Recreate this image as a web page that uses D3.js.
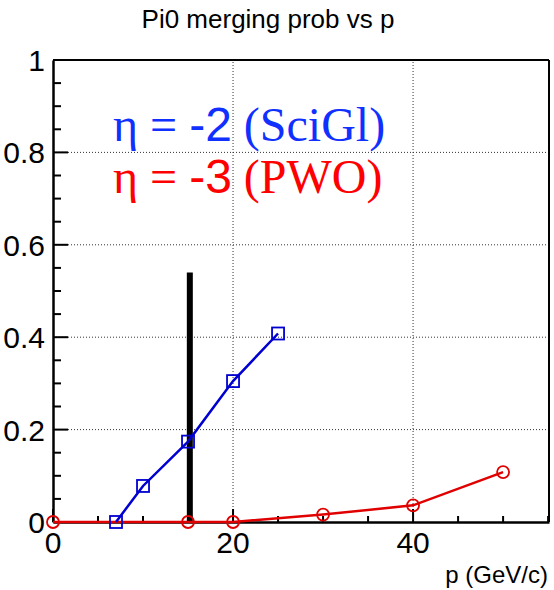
<!DOCTYPE html>
<html><head><meta charset="utf-8">
<script src="https://cdn.jsdelivr.net/npm/d3@7"></script>
<style>body{margin:0;background:#fff}svg{display:block}</style>
</head><body>
<script>
const blueX = [7, 10, 15, 20, 25];
const blueY = [0, 0.078, 0.174, 0.305, 0.408];
const redX = [0, 15, 20, 30, 40, 50];
const redY = [0, 0, 0, 0.016, 0.036, 0.108];
const cutX = 15.2, cutY = 0.54;
const xTicks = [0, 20, 40];
const yTicks = [0, 0.2, 0.4, 0.6, 0.8, 1];
const yTickLabels = ["0", "0.2", "0.4", "0.6", "0.8", "1"];

const W = 554, H = 590;
const L = 53, R = 549, T = 60, B = 522;
const svg = d3.select("body").append("svg").attr("width", W).attr("height", H);
const x = d3.scaleLinear().domain([0, 55.1]).range([L, R]);
const y = d3.scaleLinear().domain([0, 1]).range([B, T]);
const sans = "Liberation Sans, Arial, Helvetica, sans-serif";
const serif = "Liberation Serif, Times New Roman, serif";

// grid
const g = svg.append("g");
[20, 40].forEach(v => g.append("line").attr("x1", x(v)).attr("x2", x(v)).attr("y1", B).attr("y2", T)
  .attr("stroke", "#333").attr("stroke-width", 1).attr("stroke-dasharray", "1,2"));
[0.2, 0.4, 0.6, 0.8].forEach(v => g.append("line").attr("y1", y(v)).attr("y2", y(v)).attr("x1", L).attr("x2", R)
  .attr("stroke", "#333").attr("stroke-width", 1).attr("stroke-dasharray", "1,2"));

// frame
svg.append("line").attr("x1", L).attr("x2", R).attr("y1", T).attr("y2", T).attr("stroke", "#000").attr("stroke-width", 2);
svg.append("line").attr("x1", R).attr("x2", R).attr("y1", T).attr("y2", B).attr("stroke", "#000").attr("stroke-width", 2);

// axes
const xAxis = d3.axisBottom(x).tickValues(d3.range(0, 55.1, 5)).tickSize(0).tickFormat("");
const ax = svg.append("g").attr("transform", `translate(0,${B})`).call(xAxis);
ax.select(".domain").attr("stroke-width", 2.5);
ax.selectAll(".tick line").remove();
d3.range(0, 55.1, 5).forEach(v => {
  const major = xTicks.includes(v);
  ax.append("line").attr("x1", x(v)).attr("x2", x(v)).attr("y1", 0).attr("y2", major ? -13 : -6)
    .attr("stroke", "#000").attr("stroke-width", 2);
});
xTicks.forEach(v => svg.append("text").attr("x", x(v)).attr("y", B + 31).attr("text-anchor", "middle")
  .attr("font-family", sans).attr("font-size", 30).text(v));

const yAxis = d3.axisLeft(y).tickValues(yTicks).tickSize(0).tickFormat("");
const ay = svg.append("g").attr("transform", `translate(${L},0)`).call(yAxis);
ay.select(".domain").attr("stroke-width", 2.5);
d3.range(0, 1.0001, 0.05).forEach(v => {
  const major = Math.abs(v * 5 - Math.round(v * 5)) < 1e-6;
  ay.append("line").attr("y1", y(v)).attr("y2", y(v)).attr("x1", 0).attr("x2", major ? 15 : 8)
    .attr("stroke", "#000").attr("stroke-width", 2);
});
yTicks.forEach((v, i) => svg.append("text").attr("x", L - 8).attr("y", y(v) + 11).attr("text-anchor", "end")
  .attr("font-family", sans).attr("font-size", 30).text(yTickLabels[i]));

// titles
svg.append("text").attr("x", 268).attr("y", 28).attr("text-anchor", "middle")
  .attr("font-family", sans).attr("font-size", 26).text("Pi0 merging prob vs p");
svg.append("text").attr("x", 548).attr("y", 583).attr("text-anchor", "end")
  .attr("font-family", sans).attr("font-size", 24).text("p (GeV/c)");

// cut line
svg.append("line").attr("x1", x(cutX)).attr("x2", x(cutX)).attr("y1", y(0)).attr("y2", y(cutY))
  .attr("stroke", "#000").attr("stroke-width", 6);

// series
const line = d3.line().x(d => x(d[0])).y(d => y(d[1]));
const red = redX.map((v, i) => [v, redY[i]]);
const blue = blueX.map((v, i) => [v, blueY[i]]);
svg.append("path").attr("d", line(red)).attr("fill", "none").attr("stroke", "#e00000").attr("stroke-width", 2.5);
svg.append("path").attr("d", line(blue)).attr("fill", "none").attr("stroke", "#0000d0").attr("stroke-width", 2.5);
red.forEach(d => svg.append("circle").attr("cx", x(d[0])).attr("cy", y(d[1])).attr("r", 6)
  .attr("fill", "none").attr("stroke", "#e00000").attr("stroke-width", 1.8));
blue.forEach(d => svg.append("rect").attr("x", x(d[0]) - 6).attr("y", y(d[1]) - 6).attr("width", 12).attr("height", 12)
  .attr("fill", "none").attr("stroke", "#0000d0").attr("stroke-width", 1.8));

// legend
function leg(yy, col, num, label) {
  const t = svg.append("text").attr("x", 113).attr("y", yy).attr("fill", col).attr("font-size", 48);
  t.append("tspan").attr("font-family", serif).text("η = ");
  t.append("tspan").attr("font-family", sans).text(num);
  t.append("tspan").attr("font-family", serif).text(" " + label);
}
leg(141, "#1030ff", "-2", "(SciGl)");
leg(193, "#ff0000", "-3", "(PWO)");
</script>
</body></html>
